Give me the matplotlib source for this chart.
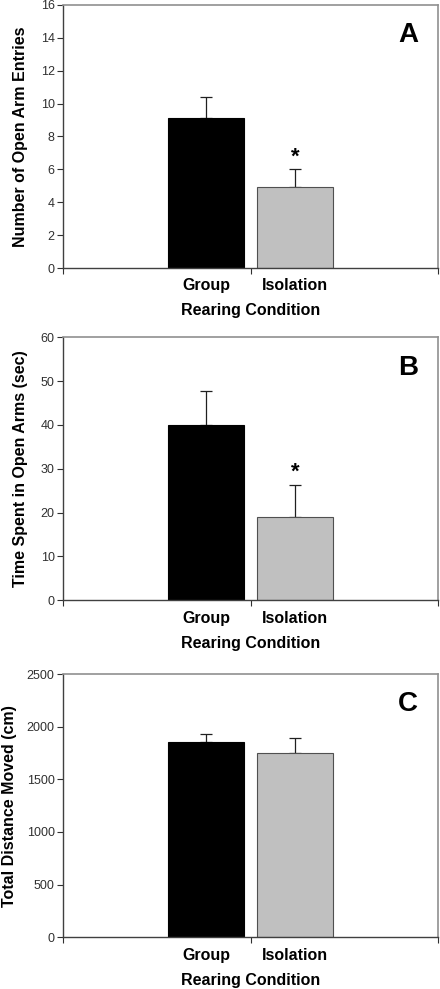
import matplotlib
matplotlib.use("Agg")
import matplotlib.pyplot as plt
import numpy as np

plt.rcParams['font.family'] = ['Liberation Sans', 'DejaVu Sans']

# data
conditions = ["Group", "Isolation"]
bar_colors = ["#000000", "#c0c0c0"]

entries = [9.15, 4.95]
entries_err = [1.28, 1.05]

open_time = [39.9, 19.1]
open_time_err = [7.8, 7.3]

distance = [1857, 1753]
distance_err = [72, 137]

panels = [
    ("A", "Number of Open Arm Entries", entries, entries_err, 16, 2, [False, True]),
    ("B", "Time Spent in Open Arms (sec)", open_time, open_time_err, 60, 10, [False, True]),
    ("C", "Total Distance Moved (cm)", distance, distance_err, 2500, 500, [False, False]),
]

# axes boxes in figure fractions [left, bottom, width, height]
boxes = [
    [0.143, 0.729, 0.853, 0.266],
    [0.143, 0.393, 0.853, 0.266],
    [0.143, 0.0523, 0.853, 0.2662],
]
ylabel_x = [-0.114, -0.114, -0.143]

fig = plt.figure(figsize=(4.4, 9.89), dpi=100)
xpos = np.array([-0.5, 0.5])

for (letter, ylabel, vals, errs, ymax, ystep, stars), box, lx in zip(panels, boxes, ylabel_x):
    ax = fig.add_axes(box)
    ax.bar(xpos, vals, width=0.86, color=bar_colors,
           edgecolor=["#000000", "#505050"], linewidth=0.8, zorder=2)
    ax.errorbar(xpos, vals, yerr=[[0, 0], errs], fmt='none', ecolor='#202020',
                elinewidth=0.9, capsize=4, capthick=0.9, zorder=1)
    for x, v, e, s in zip(xpos, vals, errs, stars):
        if s:
            ax.annotate("*", (x, v + e), xytext=(0, 1), textcoords='offset points',
                        ha='center', va='bottom', fontsize=16, fontweight='bold')
    ax.set_xlim(-2.11, 2.11)
    ax.set_ylim(0, ymax)
    ax.set_yticks(np.arange(0, ymax + ystep / 2, ystep))
    ax.set_xticks([-2.11, 0, 2.11])
    ax.set_xticklabels([])
    ax.tick_params(axis='y', direction='out', length=4, width=0.8, labelsize=9,
                   colors='#303030', pad=2)
    ax.tick_params(axis='x', direction='out', length=4, width=0.8, colors='#303030')
    for sp in ['left', 'bottom']:
        ax.spines[sp].set_color('#404040')
        ax.spines[sp].set_linewidth(1.0)
    for sp in ['top', 'right']:
        ax.spines[sp].set_color('#909090')
        ax.spines[sp].set_linewidth(1.2)
    for x, name in zip(xpos, conditions):
        ax.annotate(name, (x, 0), xycoords=('data', 'axes fraction'),
                    xytext=(0, -7.5), textcoords='offset points',
                    ha='center', va='top', fontsize=11.5, fontweight='bold')
    ax.set_xlabel("Rearing Condition", fontsize=11.5, fontweight='bold', labelpad=18)
    ax.set_ylabel(ylabel, fontsize=11.5, fontweight='bold', va='center')
    ax.yaxis.set_label_coords(lx, 0.5)
    ax.text(0.92, 0.885, letter, transform=ax.transAxes, ha='center', va='center',
            fontsize=20, fontweight='bold')

fig.savefig("out.png", dpi=100)
